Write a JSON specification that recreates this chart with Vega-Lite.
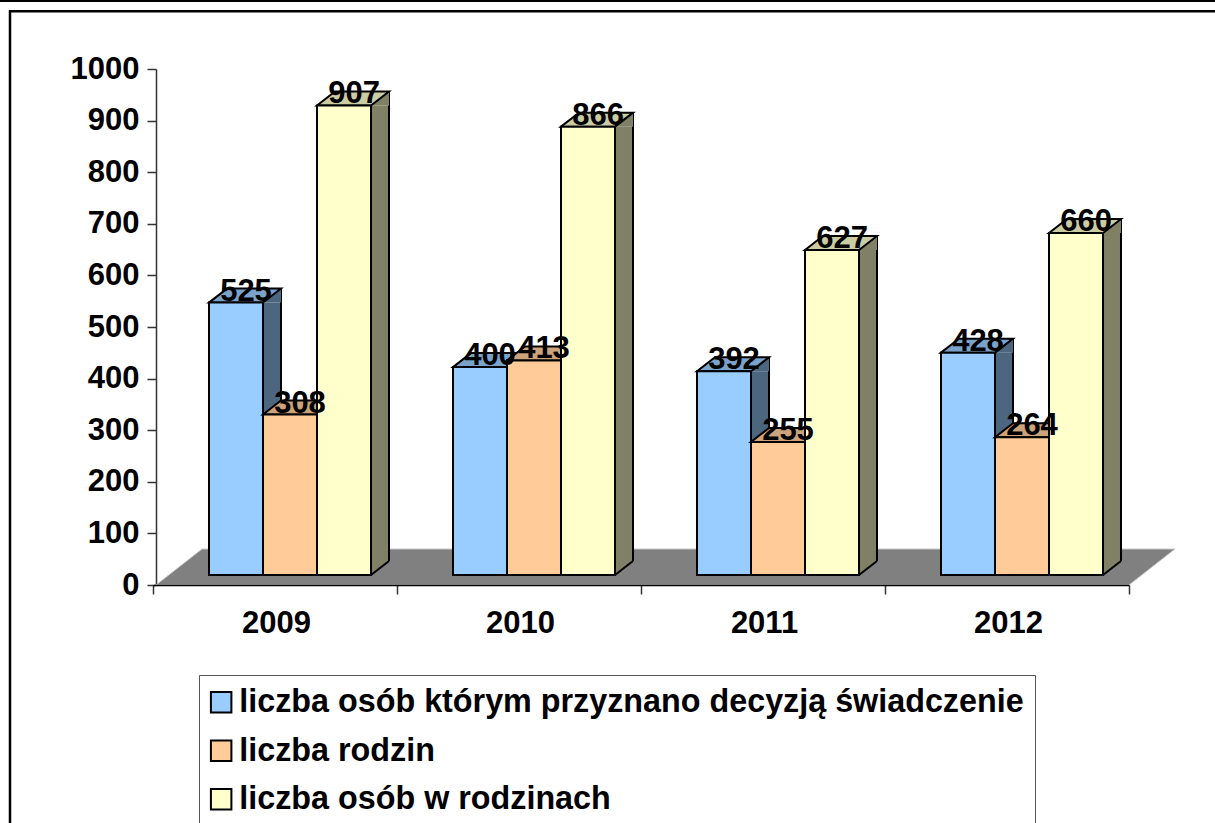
{"$schema":"https://vega.github.io/schema/vega-lite/v6.json","width":973,"height":516,"autosize":"none","padding":{"left":156,"top":69,"right":86,"bottom":238},"background":"white","config":{"view":{"stroke":null},"font":"Liberation Sans","text":{"font":"Liberation Sans"}},
"datasets":{"d":[
{"year":"2009","series":"liczba osób którym przyznano decyzją świadczenie","value":525},
{"year":"2009","series":"liczba rodzin","value":308},
{"year":"2009","series":"liczba osób w rodzinach","value":907},
{"year":"2010","series":"liczba osób którym przyznano decyzją świadczenie","value":400},
{"year":"2010","series":"liczba rodzin","value":413},
{"year":"2010","series":"liczba osób w rodzinach","value":866},
{"year":"2011","series":"liczba osób którym przyznano decyzją świadczenie","value":392},
{"year":"2011","series":"liczba rodzin","value":255},
{"year":"2011","series":"liczba osób w rodzinach","value":627},
{"year":"2012","series":"liczba osób którym przyznano decyzją świadczenie","value":428},
{"year":"2012","series":"liczba rodzin","value":264},
{"year":"2012","series":"liczba osób w rodzinach","value":660}],"one":[{"k":1}]},
"data":{"name":"d"},
"encoding":{
"x":{"field":"year","type":"nominal","title":null,"scale":{"type":"band","range":[-3,973],"paddingInner":0,"paddingOuter":0},"axis":{"labelAngle":0,"labelFontSize":31,"labelFontWeight":"bold","labelColor":"black","labelFont":"Liberation Sans","labelOffset":1,"labelPadding":14,"tickBand":"extent","tickSize":9,"tickColor":"#333333","tickWidth":1.5,"domainColor":"black","domainWidth":1.5,"zindex":1,"grid":false}},
"xOffset":{"field":"series","type":"nominal","scale":{"type":"band","domain":["liczba osób którym przyznano decyzją świadczenie","liczba rodzin","liczba osób w rodzinach"],"paddingInner":0,"paddingOuter":0.759,"align":0.683}},
"y":{"field":"value","type":"quantitative","stack":null,"title":null,"scale":{"domain":[0,1000],"nice":false},"axis":{"values":[0,100,200,300,400,500,600,700,800,900,1000],"format":"d","labelFontSize":31,"labelFontWeight":"bold","labelColor":"black","labelFont":"Liberation Sans","labelPadding":8,"tickSize":9,"tickColor":"#333333","tickWidth":1.5,"domainColor":"#333333","domainWidth":1.5,"grid":false}}
},
"layer":[
{"data":{"name":"one"},"mark":{"type":"point","filled":true,"opacity":1,"size":4,"fill":"#808080","stroke":"#c8c8c8","strokeWidth":1,"shape":"M0 0 L46 -36 L1019 -36 L973 0 Z"},"encoding":{"x":{"value":0},"xOffset":null,"y":{"value":516}}},
{"data":{"name":"one"},"mark":{"type":"point","filled":false,"opacity":1,"size":4,"stroke":"black","strokeWidth":2.5,"shape":"M-146 760 L-146 -57.7 L1065 -57.7"},"encoding":{"x":{"value":0},"xOffset":null,"y":{"value":0}}},
{"data":{"name":"one"},"mark":{"type":"point","filled":false,"opacity":1,"size":4,"stroke":"black","strokeWidth":2,"shape":"M-160 -68 L1065 -68"},"encoding":{"x":{"value":0},"xOffset":null,"y":{"value":0}}},
{"transform":[{"filter":"datum.series==='liczba osób którym przyznano decyzją świadczenie'"}],"layer":[
{"mark":{"type":"bar","width":18,"xOffset":-3,"yOffset":-11.5,"y2Offset":-24,"color":"#4D6680"},"encoding":{"xOffset":null,"y2":{"datum":0}}},
{"mark":{"type":"rule","xOffset":6,"yOffset":-25.5,"y2Offset":-24,"color":"black","strokeWidth":2},"encoding":{"xOffset":null,"y2":{"datum":0}}},
{"mark":{"type":"point","filled":true,"opacity":1,"size":4,"fill":"#4D6680","strokeWidth":0,"yOffset":-11.5,"shape":"M27 0 L45 -14 L45 0 Z"}},
{"mark":{"type":"point","filled":true,"opacity":1,"size":4,"fill":"#7AA3CC","stroke":"black","strokeWidth":2,"yOffset":-11.5,"shape":"M-27 0 L-9 -14 L45 -14 L27 0 Z"}}
]},
{"transform":[{"filter":"datum.series==='liczba osób którym przyznano decyzją świadczenie'"}],"mark":{"type":"bar","stroke":"black","strokeWidth":2,"yOffset":-11.5,"y2Offset":-10},"encoding":{"y2":{"datum":0},"color":{"field":"series","type":"nominal","title":null,"scale":{"domain":["liczba osób którym przyznano decyzją świadczenie","liczba rodzin","liczba osób w rodzinach"],"range":["#99CCFF","#FFCC99","#FFFFCC"]},"legend":{"orient":"none","legendX":43,"legendY":606,"title":null,"fillColor":"white","strokeColor":"#555555","padding":11,"labelFontSize":32.3,"labelFontWeight":"bold","labelColor":"black","labelFont":"Liberation Sans","labelLimit":900,"labelOffset":2,"symbolOffset":-5,"symbolType":"square","symbolSize":420,"symbolStrokeColor":"black","symbolStrokeWidth":2,"rowPadding":15.5}}}},
{"transform":[{"filter":"datum.series==='liczba rodzin'"}],"layer":[
{"mark":{"type":"bar","width":18,"xOffset":51,"yOffset":-11.5,"y2Offset":-24,"color":"#80664D"},"encoding":{"xOffset":null,"y2":{"datum":0}}},
{"mark":{"type":"rule","xOffset":60,"yOffset":-25.5,"y2Offset":-24,"color":"black","strokeWidth":2},"encoding":{"xOffset":null,"y2":{"datum":0}}},
{"mark":{"type":"point","filled":true,"opacity":1,"size":4,"fill":"#80664D","strokeWidth":0,"yOffset":-11.5,"shape":"M27 0 L45 -14 L45 0 Z"}},
{"mark":{"type":"point","filled":true,"opacity":1,"size":4,"fill":"#CCA37A","stroke":"black","strokeWidth":2,"yOffset":-11.5,"shape":"M-27 0 L-9 -14 L45 -14 L27 0 Z"}},
{"mark":{"type":"bar","stroke":"black","strokeWidth":2,"yOffset":-11.5,"y2Offset":-10,"color":"#FFCC99"},"encoding":{"y2":{"datum":0}}}
]},
{"transform":[{"filter":"datum.series==='liczba osób w rodzinach'"}],"layer":[
{"mark":{"type":"bar","width":18,"xOffset":105,"yOffset":-11.5,"y2Offset":-24,"color":"#808066"},"encoding":{"xOffset":null,"y2":{"datum":0}}},
{"mark":{"type":"rule","xOffset":114,"yOffset":-25.5,"y2Offset":-24,"color":"black","strokeWidth":2},"encoding":{"xOffset":null,"y2":{"datum":0}}},
{"mark":{"type":"point","filled":true,"opacity":1,"size":4,"fill":"#808066","strokeWidth":0,"yOffset":-11.5,"shape":"M27 0 L45 -14 L45 0 Z"}},
{"mark":{"type":"point","filled":true,"opacity":1,"size":4,"fill":"#808066","strokeWidth":0,"yOffset":-10,"shape":"M27 0 L45 -14 L27 -14 Z"},"encoding":{"y":{"datum":0}}},
{"mark":{"type":"point","filled":false,"opacity":1,"size":4,"stroke":"black","strokeWidth":2,"yOffset":-10,"shape":"M27 0 L45 -14"},"encoding":{"y":{"datum":0}}},
{"mark":{"type":"point","filled":true,"opacity":1,"size":4,"fill":"#CCCCA3","stroke":"black","strokeWidth":2,"yOffset":-11.5,"shape":"M-27 0 L-9 -14 L45 -14 L27 0 Z"}},
{"mark":{"type":"bar","stroke":"black","strokeWidth":2,"yOffset":-11.5,"y2Offset":-10,"color":"#FFFFCC"},"encoding":{"y2":{"datum":0}}}
]},
{"mark":{"type":"text","font":"Liberation Sans","fontWeight":"bold","fontSize":31,"color":"black","dx":10,"dy":-13.5,"baseline":"alphabetic","align":"center"},"encoding":{"text":{"field":"value","type":"quantitative"}}}
]}
